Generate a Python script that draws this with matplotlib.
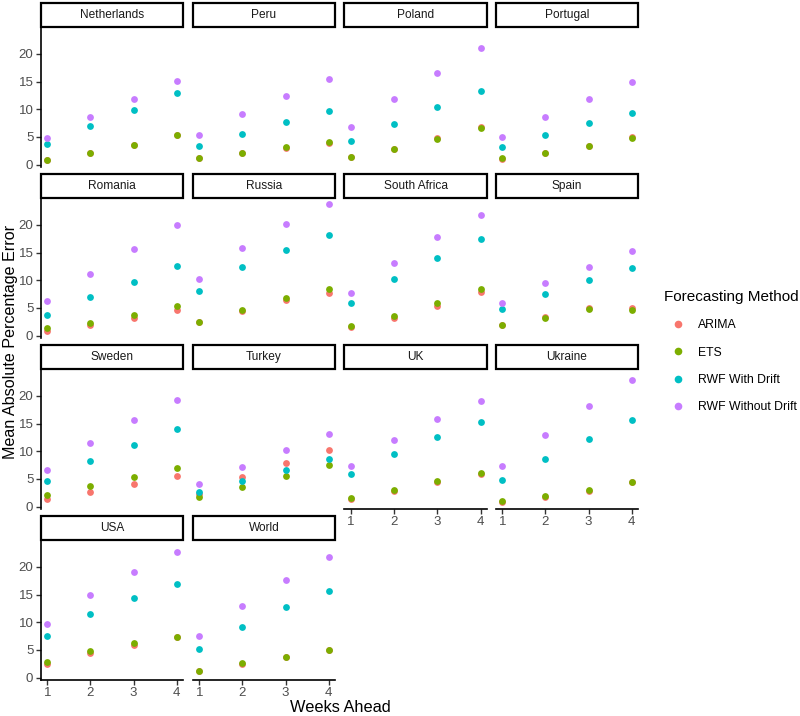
import matplotlib
matplotlib.use("Agg")
import matplotlib.pyplot as plt
from matplotlib.lines import Line2D
from matplotlib.patches import Rectangle

plt.rcParams['font.family'] = ['Liberation Sans', 'DejaVu Sans']

# data (MAPE, %, by weeks ahead)
countries = ["Netherlands", "Peru", "Poland", "Portugal",
             "Romania", "Russia", "South Africa", "Spain",
             "Sweden", "Turkey", "UK", "Ukraine",
             "USA", "World"]
weeks = [1, 2, 3, 4]
methods = ["ARIMA", "ETS", "RWF With Drift", "RWF Without Drift"]
colors = ["#F8766D", "#7CAE00", "#00BFC4", "#C77CFF"]

arima = [[0.80, 2.00, 3.55, 5.35], [1.25, 2.05, 3.05, 3.95], [1.35, 2.90, 4.80, 6.80], [1.05, 2.00, 3.35, 4.90],
         [0.85, 1.90, 3.17, 4.63], [2.40, 4.45, 6.34, 7.74], [1.46, 3.20, 5.43, 7.90], [1.85, 3.40, 5.00, 5.05],
         [1.40, 2.70, 4.10, 5.60], [2.20, 5.30, 7.80, 10.20], [1.35, 2.80, 4.35, 5.95], [0.90, 1.70, 2.80, 4.35],
         [2.50, 4.45, 5.85, 7.30], [1.20, 2.50, 3.75, 4.90]]
ets = [[0.85, 2.06, 3.58, 5.40], [1.27, 2.10, 3.10, 4.00], [1.40, 2.85, 4.67, 6.60], [1.15, 2.06, 3.40, 4.78],
       [1.28, 2.30, 3.78, 5.37], [2.44, 4.70, 6.70, 8.35], [1.70, 3.60, 5.85, 8.35], [1.90, 3.20, 4.80, 4.65],
       [2.00, 3.70, 5.30, 7.05], [1.80, 3.60, 5.60, 7.50], [1.60, 3.07, 4.54, 6.00], [1.00, 1.90, 3.07, 4.45],
       [2.90, 4.80, 6.16, 7.35], [1.20, 2.56, 3.80, 4.95]]
rwf_drift = [[3.76, 6.90, 9.94, 12.85], [3.40, 5.60, 7.75, 9.60], [4.24, 7.40, 10.40, 13.30], [3.10, 5.40, 7.45, 9.33],
             [3.78, 6.90, 9.76, 12.56], [8.10, 12.44, 15.55, 18.10], [5.85, 10.30, 14.10, 17.40], [4.75, 7.60, 10.06, 12.20],
             [4.70, 8.30, 11.20, 14.05], [2.60, 4.60, 6.60, 8.65], [5.83, 9.57, 12.60, 15.30], [4.80, 8.60, 12.20, 15.70],
             [7.60, 11.50, 14.40, 16.90], [5.24, 9.15, 12.70, 15.70]]
rwf_nodrift = [[4.85, 8.55, 11.90, 15.15], [5.40, 9.20, 12.40, 15.40], [6.80, 11.90, 16.60, 21.00], [4.90, 8.55, 11.90, 14.96],
               [6.28, 11.16, 15.67, 20.00], [10.20, 15.80, 20.20, 23.80], [7.74, 13.20, 17.90, 21.70], [5.80, 9.45, 12.40, 15.20],
               [6.60, 11.50, 15.60, 19.30], [4.00, 7.20, 10.25, 13.10], [7.30, 12.00, 15.80, 19.10], [7.30, 12.90, 18.10, 22.90],
               [9.70, 14.90, 19.10, 22.70], [7.50, 13.00, 17.70, 21.80]]
series = [arima, ets, rwf_drift, rwf_nodrift]

W, H = 800, 716
fig = plt.figure(figsize=(W / 100, H / 100), dpi=100)

def box(x0, y0, x1, y1):
    return [x0 / W, 1 - y1 / H, (x1 - x0) / W, (y1 - y0) / H]

col_x = [(41, 183), (193, 335), (344, 487), (496, 638)]
row_top = [3, 174, 345, 516]
strip_h, panel_h = 23.5, 140

allv = [v for s in series for row in s for v in row]
lo, hi = min(allv), max(allv)
pad = 0.05 * (hi - lo)
ncol = 4
n = len(countries)

for i, name in enumerate(countries):
    r, c = divmod(i, ncol)
    x0, x1 = col_x[c]
    st = row_top[r]
    ax = fig.add_axes(box(x0, st + strip_h, x1, st + strip_h + panel_h))
    for vals, col in zip(series, colors):
        ax.scatter(weeks, vals[i], s=24, color=col, linewidths=0, zorder=3)
    ax.set_xlim(0.85, 4.15)
    ax.set_ylim(lo - pad, hi + pad)
    ax.set_xticks(weeks)
    ax.set_yticks([0, 5, 10, 15, 20])
    for sp in ['top', 'right']:
        ax.spines[sp].set_visible(False)
    bottom = (i + ncol >= n)
    left = (c == 0)
    ax.spines['left'].set_visible(left)
    ax.spines['bottom'].set_visible(bottom)
    for sp in ['left', 'bottom']:
        ax.spines[sp].set_linewidth(1.2)
        ax.spines[sp].set_color('black')
    ax.tick_params(axis='both', colors='#333333', labelcolor='#4D4D4D', labelsize=9.5,
                   length=3.5, width=1.0, pad=2)
    ax.tick_params(axis='y', left=left, labelleft=left)
    ax.tick_params(axis='x', bottom=bottom, labelbottom=bottom)

    # facet strip
    sax = fig.add_axes(box(x0, st, x1, st + strip_h))
    sax.set_xlim(0, 1)
    sax.set_ylim(0, 1)
    sax.axis('off')
    sax.add_patch(Rectangle((0, 0), 1, 1, facecolor='white', edgecolor='black',
                            linewidth=1.6, transform=sax.transAxes, clip_on=False))
    sax.text(0.5, 0.5, name, ha='center', va='center', fontsize=8.6, color='#1A1A1A')

fig.text(11 / W, 1 - 342 / H, "Mean Absolute Percentage Error", rotation=90,
         ha='center', va='center', fontsize=11.6)
fig.text(340 / W, 1 - 707 / H, "Weeks Ahead", ha='center', va='center', fontsize=11.8)

handles = [Line2D([], [], marker='o', linestyle='', markersize=5.5, markeredgewidth=0,
                  color=col) for col in colors]
leg = fig.legend(handles, methods, title="Forecasting Method", loc='upper left',
                 bbox_to_anchor=(664 / W, 1 - 290 / H), frameon=False, fontsize=8.8,
                 title_fontsize=11, labelspacing=1.25, handletextpad=0.5,
                 handlelength=2.3, borderpad=0, borderaxespad=0, alignment='left')

fig.savefig("out.png", dpi=100)
